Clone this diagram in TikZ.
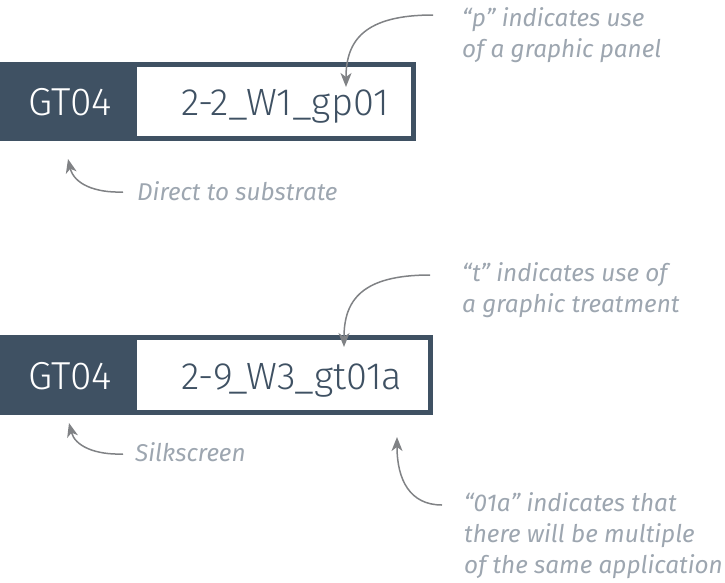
\documentclass[tikz,border=0pt]{standalone}
\usepackage{fontspec}
\setmainfont{Fira Sans}
\newfontfamily\lightfont{Fira Sans Light}
\usepackage{tikz}
\usetikzlibrary{arrows.meta}
\definecolor{koyuMavi}{HTML}{3F5163}
\definecolor{notGri}{HTML}{9DA6B0}
\definecolor{okGri}{HTML}{808285}

\begin{document}
\begin{tikzpicture}[x=1pt,y=-1pt,
  tagBox/.style={fill=koyuMavi,draw=none},
  codeBox/.style={draw=koyuMavi,line width=5pt,fill=white,inner sep=0pt},
  tagText/.style={text=white,font=\lightfont\fontsize{39}{39}\selectfont,inner sep=0pt,anchor=base},
  codeText/.style={text=koyuMavi,font=\lightfont\fontsize{38}{38}\selectfont,inner sep=0pt,anchor=base west},
  noteText/.style={text=notGri,font=\itshape\fontsize{24.3}{31}\selectfont,inner sep=0pt,align=left,anchor=base west},
  noteArrow/.style={okGri,line width=1.5pt,-{Stealth[length=14pt,width=11pt,inset=4pt]}}]
\useasboundingbox (0,0) rectangle (725,582);
% first label: direct to substrate
\fill[tagBox] (0,62) rectangle (137,141);
\node[codeBox,minimum width=279pt,minimum height=74pt] (box1) at (274,101.5) {};
\node[tagText] (tag1) at (70,115) {GT04};
\node[codeText] (code1) at (181,115) {2-2\_W1\_gp01};
% base of a multi-line note is its last line
\node[noteText] (pNote) at (462,57) {“p” indicates use\\of a graphic panel};
\node[noteText] (dNote) at (137,200) {Direct to substrate};
\coordinate (pTail) at (433,15);
\coordinate (pTip) at (346,87);
\coordinate (dTail) at (123,192);
\coordinate (dTip) at (68,159);
\draw[noteArrow] (pTail) .. controls (365,15) and (346,40) .. (pTip);
\draw[noteArrow] (dTail) .. controls (95,193) and (74,184) .. (dTip);
% second label: silkscreen
\fill[tagBox] (0,335) rectangle (137,415);
\node[codeBox,minimum width=296pt,minimum height=75pt] (box2) at (282.5,375) {};
\node[tagText] (tag2) at (70,389) {GT04};
\node[codeText] (code2) at (181,389) {2-9\_W3\_gt01a};
\node[noteText] (tNote) at (462,312) {“t” indicates use of\\a graphic treatment};
\node[noteText] (sNote) at (135,461) {Silkscreen};
\node[noteText] (aNote) at (464,573) {“01a” indicates that\\there will be multiple\\of the same application};
\coordinate (tTail) at (430,275);
\coordinate (tTip) at (344,347);
\coordinate (sTail) at (123,454);
\coordinate (sTip) at (69,423);
\coordinate (aTail) at (442,505);
\coordinate (aTip) at (397,437);
\draw[noteArrow] (tTail) .. controls (362,275) and (344,300) .. (tTip);
\draw[noteArrow] (sTail) .. controls (95,455) and (75,446) .. (sTip);
\draw[noteArrow] (aTail) .. controls (410,505) and (397,480) .. (aTip);
\end{tikzpicture}
\end{document}
